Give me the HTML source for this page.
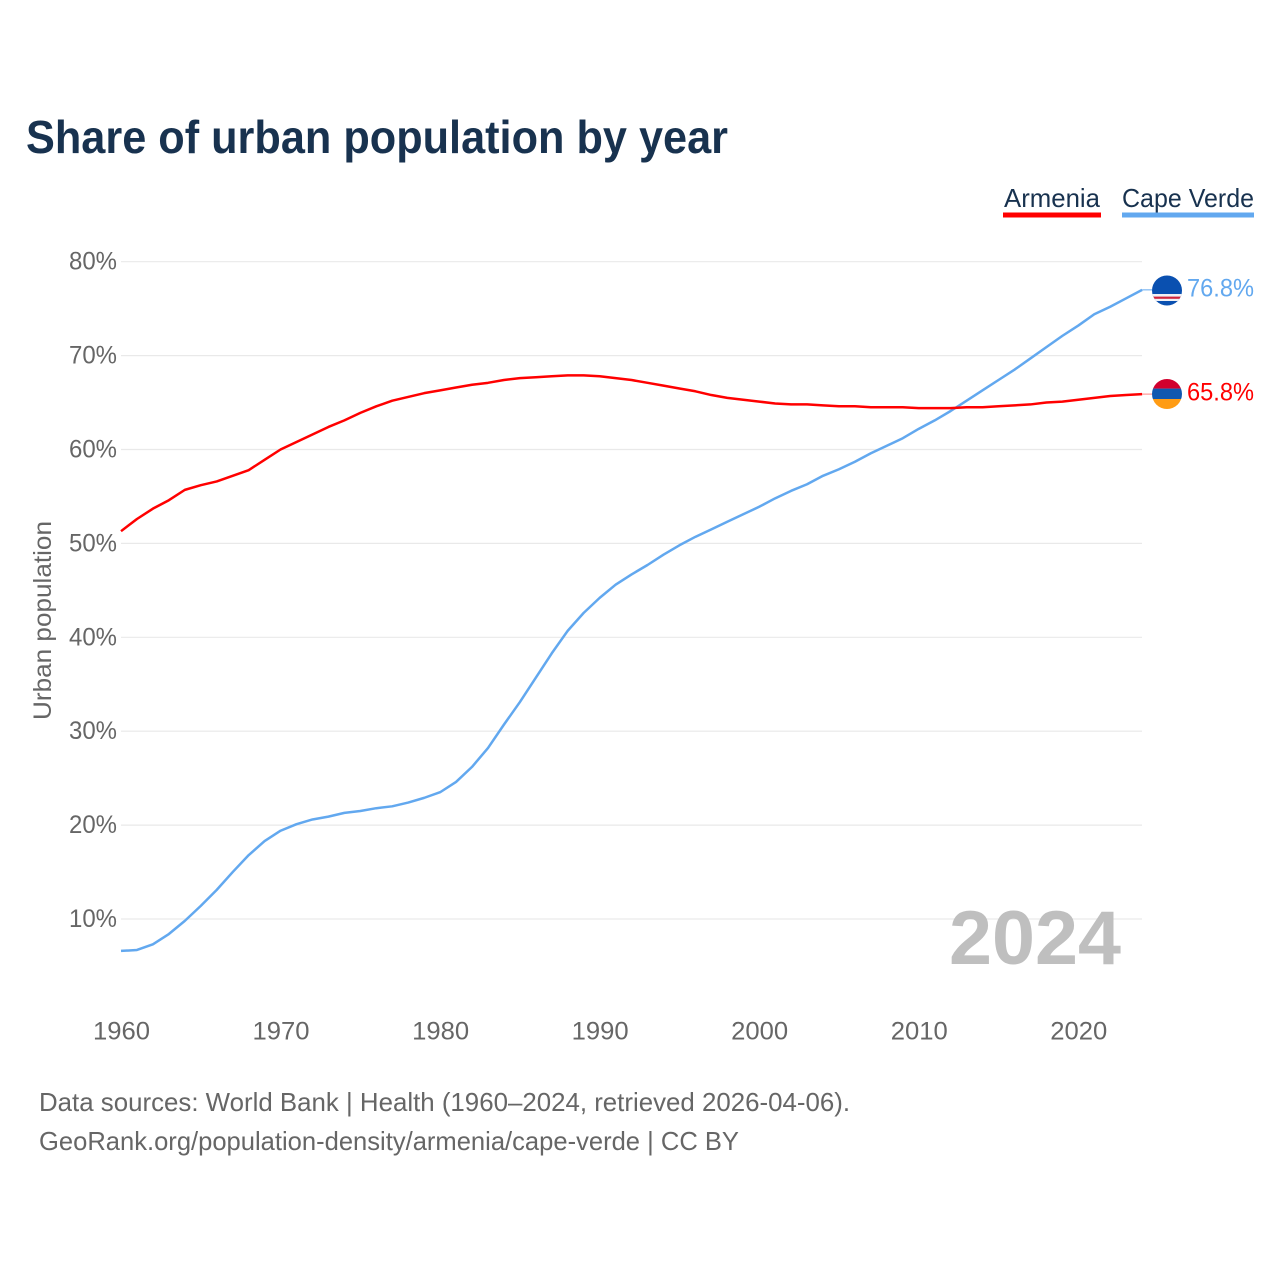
<!DOCTYPE html>
<html>
<head>
<meta charset="utf-8">
<title>Share of urban population by year</title>
<style>
html,body{margin:0;padding:0;background:#fff;}
svg{display:block;}
text{font-family:"Liberation Sans",sans-serif;}
</style>
</head>
<body>
<svg id="chart" width="1280" height="1280" viewBox="0 0 1280 1280" xmlns="http://www.w3.org/2000/svg">
<rect width="1280" height="1280" fill="#ffffff"/>
<text x="26" y="153" font-size="46" font-weight="700" fill="#18324f" textLength="702" lengthAdjust="spacingAndGlyphs">Share of urban population by year</text>

<g id="grid"></g>
<g id="yticks"></g>
<g id="xticks"></g>

<text transform="translate(51,720) rotate(-90)" font-size="25" fill="#666666" textLength="199" lengthAdjust="spacingAndGlyphs">Urban population</text>

<text x="949" y="964" font-size="76" font-weight="700" fill="#bfbfbf" textLength="172" lengthAdjust="spacingAndGlyphs">2024</text>

<g id="series"></g>

<g>
  <text x="1004" y="207" font-size="26" fill="#18324f" textLength="96" lengthAdjust="spacingAndGlyphs">Armenia</text>
  <rect x="1003" y="212.5" width="98" height="5" fill="#ff0000"/>
</g>
<g>
  <text x="1122" y="207" font-size="26" fill="#18324f" textLength="132" lengthAdjust="spacingAndGlyphs">Cape Verde</text>
  <rect x="1122" y="212.5" width="132" height="5" fill="#62a8ef"/>
</g>

<defs>
  <clipPath id="flagClipCV"><circle cx="1167" cy="290.5" r="15"/></clipPath>
  <clipPath id="flagClipAM"><circle cx="1167" cy="394" r="15"/></clipPath>
</defs>
<g clip-path="url(#flagClipCV)">
  <rect x="1152" y="275" width="30" height="31" fill="#0a50b0"/>
  <rect x="1152" y="294" width="30" height="7" fill="#f1f1f4"/>
  <rect x="1152" y="296.6" width="30" height="2.2" fill="#d0243c"/>
</g>
<g clip-path="url(#flagClipAM)">
  <rect x="1152" y="379" width="30" height="9.6" fill="#d2002e"/>
  <rect x="1152" y="388.6" width="30" height="10.4" fill="#1058b0"/>
  <rect x="1152" y="399" width="30" height="10" fill="#ff9c14"/>
</g>

<text x="1187" y="296.5" font-size="25" fill="#62a8ef" textLength="67" lengthAdjust="spacingAndGlyphs">76.8%</text>
<text x="1187" y="400.5" font-size="25" fill="#ff0000" textLength="67" lengthAdjust="spacingAndGlyphs">65.8%</text>

<text x="39" y="1111" font-size="26" fill="#666666" textLength="811" lengthAdjust="spacingAndGlyphs">Data sources: World Bank | Health (1960–2024, retrieved 2026-04-06).</text>
<text x="39" y="1150" font-size="26" fill="#666666" textLength="700" lengthAdjust="spacingAndGlyphs">GeoRank.org/population-density/armenia/cape-verde | CC BY</text>
</svg>

<script>
var startYear = 1960;
var armeniaValues = [51.3,52.6,53.7,54.6,55.7,56.2,56.6,57.2,57.8,58.9,60.0,60.8,61.6,62.4,63.1,63.9,64.6,65.2,65.6,66.0,66.3,66.6,66.9,67.1,67.4,67.6,67.7,67.8,67.9,67.9,67.8,67.6,67.4,67.1,66.8,66.5,66.2,65.8,65.5,65.3,65.1,64.9,64.8,64.8,64.7,64.6,64.6,64.5,64.5,64.5,64.4,64.4,64.4,64.5,64.5,64.6,64.7,64.8,65.0,65.1,65.3,65.5,65.7,65.8,65.9];
var capeVerdeValues = [6.6,6.7,7.3,8.4,9.8,11.4,13.1,15.0,16.8,18.3,19.4,20.1,20.6,20.9,21.3,21.5,21.8,22.0,22.4,22.9,23.5,24.6,26.2,28.2,30.7,33.1,35.7,38.3,40.7,42.6,44.2,45.6,46.7,47.7,48.8,49.8,50.7,51.5,52.3,53.1,53.9,54.8,55.6,56.3,57.2,57.9,58.7,59.6,60.4,61.2,62.2,63.1,64.1,65.2,66.3,67.4,68.5,69.7,70.9,72.1,73.2,74.4,75.2,76.1,77.0];
var yTickValues = [10,20,30,40,50,60,70,80];
var xTickValues = [1960,1970,1980,1990,2000,2010,2020];

var SVG_NS = 'http://www.w3.org/2000/svg';
function xScale(year){ return 121 + (year - 1960) * 15.955; }
function yScale(v){ return 919 - (v - 10) * 9.39; }

var gridGroup = document.getElementById('grid');
var yGroup = document.getElementById('yticks');
var xGroup = document.getElementById('xticks');
var seriesGroup = document.getElementById('series');

yTickValues.forEach(function(v){
  var line = document.createElementNS(SVG_NS, 'line');
  
  
  line.setAttribute('x1', 121);
  line.setAttribute('x2', 1142);
  line.setAttribute('y1', yScale(v));
  line.setAttribute('y2', yScale(v));
  line.setAttribute('stroke', '#e9e9e9');
  line.setAttribute('stroke-width', '1.2');
  gridGroup.appendChild(line);

  var label = document.createElementNS(SVG_NS, 'text');
  
  
  label.setAttribute('x', 117);
  label.setAttribute('y', yScale(v) + 8);
  label.setAttribute('text-anchor', 'end');
  label.setAttribute('font-size', '25');
  label.setAttribute('fill', '#666666');
  label.setAttribute('textLength', '48');
  label.setAttribute('lengthAdjust', 'spacingAndGlyphs');
  label.textContent = v + '%';
  yGroup.appendChild(label);
});

xTickValues.forEach(function(year){
  var label = document.createElementNS(SVG_NS, 'text');
  
  
  label.setAttribute('x', xScale(year) + 0.5);
  label.setAttribute('y', 1039.5);
  label.setAttribute('text-anchor', 'middle');
  label.setAttribute('font-size', '25');
  label.setAttribute('fill', '#666666');
  label.setAttribute('textLength', '57');
  label.setAttribute('lengthAdjust', 'spacingAndGlyphs');
  label.textContent = String(year);
  xGroup.appendChild(label);
});

function pointsFor(values){
  return values.map(function(v, i){
    return xScale(startYear + i).toFixed(2) + ',' + yScale(v).toFixed(2);
  }).join(' ');
}

var cvLine = document.createElementNS(SVG_NS, 'polyline');


cvLine.setAttribute('points', pointsFor(capeVerdeValues));
cvLine.setAttribute('fill', 'none');
cvLine.setAttribute('stroke', '#62a8ef');
cvLine.setAttribute('stroke-width', '2.5');
cvLine.setAttribute('stroke-linejoin', 'round');
seriesGroup.appendChild(cvLine);

var amLine = document.createElementNS(SVG_NS, 'polyline');


amLine.setAttribute('points', pointsFor(armeniaValues));
amLine.setAttribute('fill', 'none');
amLine.setAttribute('stroke', '#ff0000');
amLine.setAttribute('stroke-width', '2.5');
amLine.setAttribute('stroke-linejoin', 'round');
seriesGroup.appendChild(amLine);

var cvLast = capeVerdeValues[capeVerdeValues.length - 1];
var cvTail = document.createElementNS(SVG_NS, 'line');


cvTail.setAttribute('x1', xScale(2024));
cvTail.setAttribute('x2', 1152);
cvTail.setAttribute('y1', yScale(cvLast));
cvTail.setAttribute('y2', yScale(cvLast));
cvTail.setAttribute('stroke', '#62a8ef');
cvTail.setAttribute('stroke-width', '1');
seriesGroup.appendChild(cvTail);

var amLast = armeniaValues[armeniaValues.length - 1];
var amTail = document.createElementNS(SVG_NS, 'line');


amTail.setAttribute('x1', xScale(2024));
amTail.setAttribute('x2', 1152);
amTail.setAttribute('y1', yScale(amLast));
amTail.setAttribute('y2', yScale(amLast));
amTail.setAttribute('stroke', '#ff8080');
amTail.setAttribute('stroke-width', '1');
seriesGroup.appendChild(amTail);
</script>
</body>
</html>
